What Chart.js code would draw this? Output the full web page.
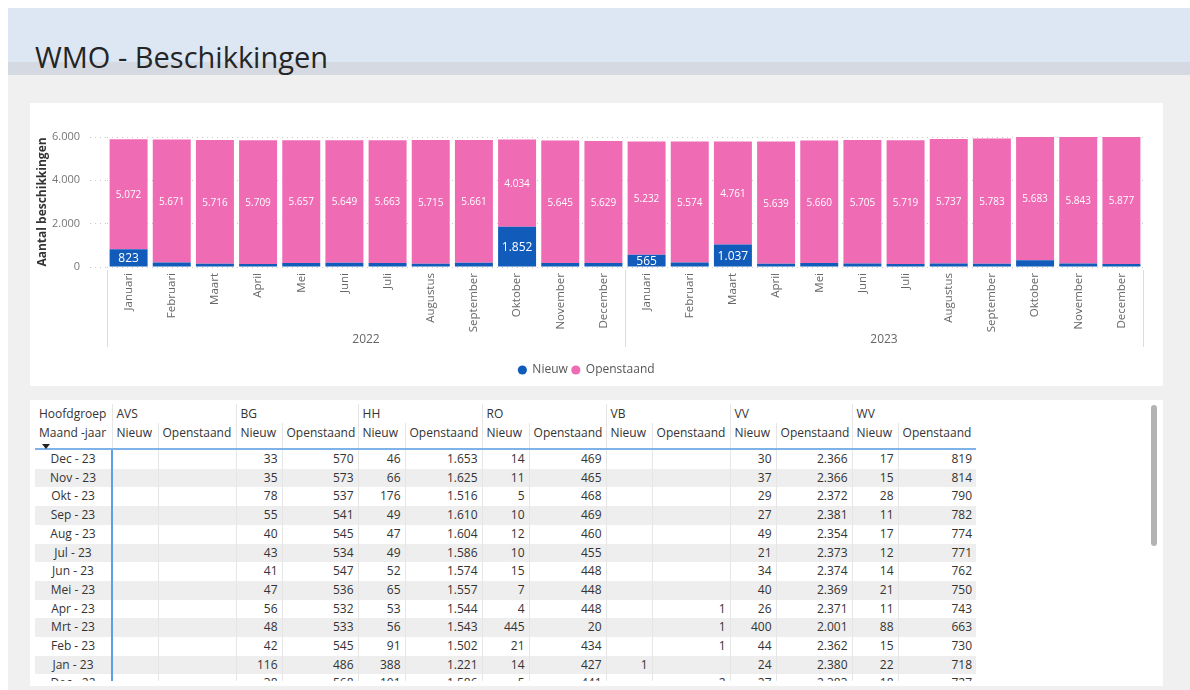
<!DOCTYPE html>
<html lang="nl">
<head>
<meta charset="utf-8">
<title>WMO - Beschikkingen</title>
<script src="https://cdn.jsdelivr.net/npm/chart.js@4.4.1/dist/chart.umd.min.js"></script>
<style>
  body { margin: 0; width: 1190px; height: 690px; background: #fff; overflow: hidden;
         font-family: 'Segoe UI', 'Open Sans', sans-serif; color: #333; }
  #pagina { position: absolute; left: 8px; top: 8px; width: 1182px; height: 682px; background: #f0f0f0; }
  #kop { position: absolute; left: 8px; top: 8px; width: 1182px; height: 54px; background: #dde7f4; }
  #kopband { position: absolute; left: 8px; top: 62px; width: 1182px; height: 13px; background: #d5dae2; }
  #titel { position: absolute; left: 35px; top: 42px; font-size: 29px; line-height: 29px; color: #252525; }
  #grafiekKaart { position: absolute; left: 30px; top: 103px; width: 1133px; height: 283px; background: #fff; }
  #tabelKaart { position: absolute; left: 30px; top: 400px; width: 1133px; height: 286px; background: #fff; overflow: hidden; }
  #tabelWrap { position: absolute; left: 5px; top: 4px; width: 960px; height: 277px; overflow: hidden; }
  table { border-collapse: collapse; table-layout: fixed; width: 941px; font-size: 12px; color: #333; }
  td, th { padding: 0 4px; white-space: nowrap; overflow: hidden; font-weight: normal; box-sizing: border-box; }
  th { text-align: left; }
  tr.kop1 th { height: 19px; }
  tr.kop2 th { height: 26px; vertical-align: top; padding-top: 1px; border-bottom: 2px solid #7db3e8; }
  tbody td { height: 18.7px; line-height: 18.7px; text-align: right; border-left: 1px solid #e6e6e6; }
  tbody td:first-child { text-align: center; border-left: none; }
  tbody td:nth-child(2) { border-left: 2px solid #5aa0e6; }
  tbody tr:nth-child(even) td { background: #eeeeee; }
  .sep { border-left: 1px solid #e6e6e6; }
  #pijl { position: absolute; left: 7px; top: 40px; width: 0; height: 0;
          border-left: 4px solid transparent; border-right: 4px solid transparent; border-top: 5px solid #222; }
  #scroll { position: absolute; left: 1121px; top: 5px; width: 6px; height: 141px; border-radius: 3px; background: #b3b3b3; }
</style>
</head>
<body>
<div id="pagina"></div>
<div id="kop"></div>
<div id="kopband"></div>
<div id="titel">WMO - Beschikkingen</div>

<div id="grafiekKaart"><canvas id="grafiek" width="1133" height="283"></canvas></div>

<div id="tabelKaart">
  <div id="tabelWrap"><table id="tabel"></table><div id="pijl"></div></div>
  <div id="scroll"></div>
</div>

<script>
// gegevens grafiek
const maanden = ["Januari", "Februari", "Maart", "April", "Mei", "Juni", "Juli",
  "Augustus", "September", "Oktober", "November", "December"];
const jaren = ["2022", "2023"];
const nieuw2022 = [823, 210, 150, 140, 190, 200, 190, 150, 200, 1852, 190, 189];
const openstaand2022 = [5072, 5671, 5716, 5709, 5657, 5649, 5663, 5715, 5661, 4034, 5645, 5629];
const nieuw2023 = [565, 213, 1037, 150, 180, 156, 135, 165, 152, 316, 164, 140];
const openstaand2023 = [5232, 5574, 4761, 5639, 5660, 5705, 5719, 5737, 5783, 5683, 5843, 5877];
const yTicks = [0, 2000, 4000, 6000];

// gegevens tabel
const hoofdgroepen = ["AVS", "BG", "HH", "RO", "VB", "VV", "WV"];
const tabelMaanden = ["Dec - 23", "Nov - 23", "Okt - 23", "Sep - 23", "Aug - 23", "Jul - 23",
  "Jun - 23", "Mei - 23", "Apr - 23", "Mrt - 23", "Feb - 23", "Jan - 23", "Dec - 22"];
// per maand: Nieuw/Openstaand voor AVS, BG, HH, RO, VB, VV, WV
const tabelWaarden = [
  [null, null, 33, 570, 46, 1653, 14, 469, null, null, 30, 2366, 17, 819],
  [null, null, 35, 573, 66, 1625, 11, 465, null, null, 37, 2366, 15, 814],
  [null, null, 78, 537, 176, 1516, 5, 468, null, null, 29, 2372, 28, 790],
  [null, null, 55, 541, 49, 1610, 10, 469, null, null, 27, 2381, 11, 782],
  [null, null, 40, 545, 47, 1604, 12, 460, null, null, 49, 2354, 17, 774],
  [null, null, 43, 534, 49, 1586, 10, 455, null, null, 21, 2373, 12, 771],
  [null, null, 41, 547, 52, 1574, 15, 448, null, null, 34, 2374, 14, 762],
  [null, null, 47, 536, 65, 1557, 7, 448, null, null, 40, 2369, 21, 750],
  [null, null, 56, 532, 53, 1544, 4, 448, null, 1, 26, 2371, 11, 743],
  [null, null, 48, 533, 56, 1543, 445, 20, null, 1, 400, 2001, 88, 663],
  [null, null, 42, 545, 91, 1502, 21, 434, null, 1, 44, 2362, 15, 730],
  [null, null, 116, 486, 388, 1221, 14, 427, 1, null, 24, 2380, 22, 718],
  [null, null, 38, 568, 101, 1586, 5, 441, null, 2, 27, 2383, 18, 727]
];

function fmt(n) {
  return String(n).replace(/\B(?=(\d{3})+(?!\d))/g, ".");
}

// tabel opbouwen
function bouwTabel() {
  const breedtes = [77, 46, 78, 46, 76, 47, 77, 47, 77, 46, 78, 46, 76, 46, 78];
  let html = "<colgroup>" + breedtes.map(b => '<col style="width:' + b + 'px">').join("") + "</colgroup>";
  html += '<thead><tr class="kop1"><th>Hoofdgroep</th>';
  hoofdgroepen.forEach(g => { html += '<th colspan="2" class="sep">' + g + "</th>"; });
  html += '</tr><tr class="kop2"><th>Maand -jaar</th>';
  hoofdgroepen.forEach(() => { html += '<th class="sep">Nieuw</th><th class="sep">Openstaand</th>'; });
  html += "</tr></thead><tbody>";
  tabelMaanden.forEach((m, i) => {
    html += "<tr><td>" + m + "</td>";
    tabelWaarden[i].forEach(v => { html += "<td>" + (v === null ? "" : fmt(v)) + "</td>"; });
    html += "</tr>";
  });
  html += "</tbody>";
  document.getElementById("tabel").innerHTML = html;
}

// waarden in de balken
const balkLabels = {
  id: "balkLabels",
  afterDatasetsDraw(chart) {
    const ctx = chart.ctx;
    ctx.save();
    ctx.fillStyle = "#fff";
    ctx.textAlign = "center";
    ctx.textBaseline = "middle";
    chart.data.datasets.forEach((ds, di) => {
      const meta = chart.getDatasetMeta(di);
      ctx.font = (di === 0 ? "12px" : "10px") + " 'Segoe UI', 'Open Sans', sans-serif";
      meta.data.forEach((el, i) => {
        const p = el.getProps(["x", "y", "base"], true);
        if (p.base - p.y < 11) return;
        ctx.fillText(fmt(ds.data[i]), p.x, (p.y + p.base) / 2 + 1);
      });
    });
    ctx.restore();
  }
};

// jaartallen onder de maanden
const jaarAs = {
  id: "jaarAs",
  afterDraw(chart) {
    const x = chart.scales.x;
    const ctx = chart.ctx;
    const onder = chart.chartArea.bottom;
    const stap = x.getPixelForValue(1) - x.getPixelForValue(0);
    ctx.save();
    ctx.strokeStyle = "#dcdcdc";
    ctx.lineWidth = 1;
    for (let g = 0; g <= jaren.length; g++) {
      const px = Math.round(x.getPixelForValue(g * 12) - stap / 2) + 0.5;
      ctx.beginPath();
      ctx.moveTo(px, onder + 3);
      ctx.lineTo(px, onder + 80);
      ctx.stroke();
    }
    ctx.fillStyle = "#666";
    ctx.font = "12px 'Segoe UI', 'Open Sans', sans-serif";
    ctx.textAlign = "center";
    ctx.textBaseline = "middle";
    jaren.forEach((j, g) => {
      const midden = (x.getPixelForValue(g * 12) + x.getPixelForValue(g * 12 + 11)) / 2;
      ctx.fillText(j, midden, onder + 73);
    });
    ctx.restore();
  }
};

function tekenGrafiek() {
  const ctx = document.getElementById("grafiek").getContext("2d");
  new Chart(ctx, {
    type: "bar",
    data: {
      labels: maanden.concat(maanden),
      datasets: [{
        label: "Nieuw",
        data: nieuw2022.concat(nieuw2023),
        backgroundColor: "#115cbb",
        barPercentage: 0.88,
        categoryPercentage: 1
      }, {
        label: "Openstaand",
        data: openstaand2022.concat(openstaand2023),
        backgroundColor: "#ef6bb4",
        barPercentage: 0.88,
        categoryPercentage: 1
      }]
    },
    options: {
      responsive: false,
      animation: false,
      layout: { padding: { top: 34, left: 0, right: 20, bottom: 0 } },
      plugins: {
        legend: {
          position: "bottom",
          labels: {
            usePointStyle: true, pointStyle: "circle", boxWidth: 8, boxHeight: 6.5,
            padding: 4, color: "#555", font: { size: 12, family: "'Segoe UI', 'Open Sans', sans-serif" }
          }
        },
        tooltip: { enabled: false }
      },
      scales: {
        x: {
          stacked: true,
          grid: { display: false, drawTicks: false },
          border: { display: false },
          ticks: {
            autoSkip: false, maxRotation: 90, minRotation: 90, padding: 6,
            color: "#666", font: { size: 11.5, family: "'Segoe UI', 'Open Sans', sans-serif" }
          },
          afterFit(s) { s.height = 93; }
        },
        y: {
          stacked: true,
          min: 0,
          max: 6000,
          afterBuildTicks(s) { s.ticks = yTicks.map(v => ({ value: v })); },
          ticks: {
            padding: 10, color: "#777", callback: v => fmt(v),
            font: { size: 11, family: "'Segoe UI', 'Open Sans', sans-serif" }
          },
          grid: { color: "#c8c8c8", tickLength: 17, tickBorderDash: [1, 4], tickColor: "#c8c8c8" },
          border: { display: false, dash: [1, 4] },
          title: {
            display: true, text: "Aantal beschikkingen", color: "#333", padding: 5,
            font: { size: 12, weight: "bold", family: "'Segoe UI', 'Open Sans', sans-serif" }
          },
          afterFit(s) { s.width = 77; }
        }
      }
    },
    plugins: [balkLabels, jaarAs]
  });
}

document.addEventListener("DOMContentLoaded", () => {
  bouwTabel();
  tekenGrafiek();
});
</script>
</body>
</html>
